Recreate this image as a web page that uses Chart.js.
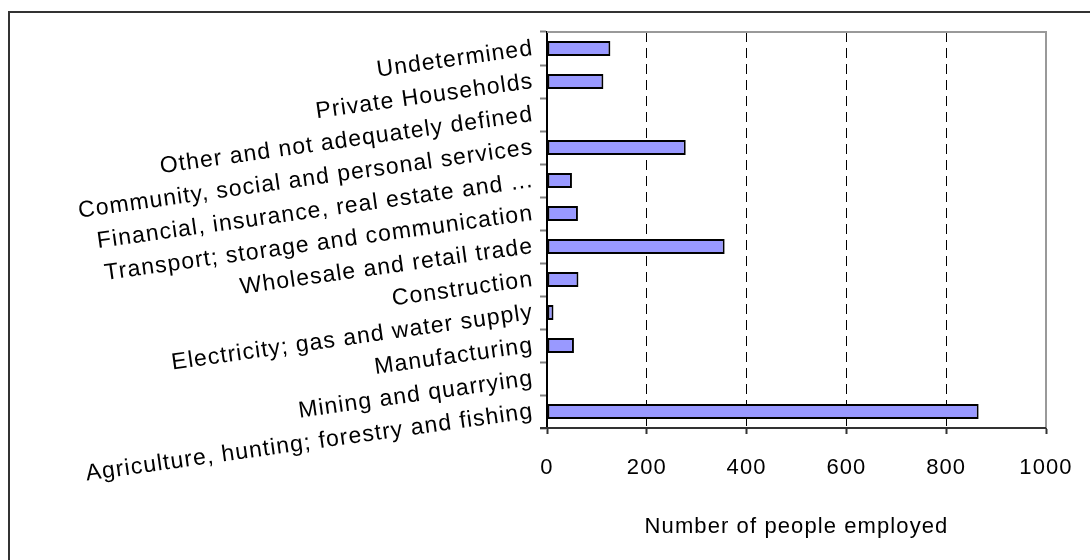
<!DOCTYPE html>
<html>
<head>
<meta charset="utf-8">
<script src="https://cdn.jsdelivr.net/npm/chart.js@4/dist/chart.umd.min.js"></script>
<style>
  html, body { margin: 0; padding: 0; background: #fff; }
  #wrap { position: relative; width: 1090px; height: 560px; }
</style>
</head>
<body>
<div id="wrap"><canvas id="employmentChart" width="1090" height="560"></canvas></div>
<script>
"use strict";

// Sectors, bottom to top as they appear on the chart
const sectors = [
  "Agriculture, hunting; forestry and fishing",
  "Mining and quarrying",
  "Manufacturing",
  "Electricity; gas and water supply",
  "Construction",
  "Wholesale and retail trade",
  "Transport; storage and communication",
  "Financial, insurance, real estate and ...",
  "Community, social and personal services",
  "Other and not adequately defined",
  "Private Households",
  "Undetermined"
];

// Number of people employed in each sector
const employed = [865, 0, 54, 13, 63, 356, 62, 50, 278, 0, 113, 127];

const xTickValues = [0, 200, 400, 600, 800, 1000];
const xAxisTitle = "Number of people employed";

const FONT = "'Liberation Sans', Arial, sans-serif";

// Frame round the picture, grey box round the plot, wider letter spacing
const framePlugin = {
  id: "frame",
  beforeLayout(chart) {
    chart.ctx.letterSpacing = "1.1px";
  },
  beforeDraw(chart) {
    const ctx = chart.ctx;
    ctx.letterSpacing = "1.1px";
    ctx.save();
    ctx.strokeStyle = "#333";
    ctx.lineWidth = 2;
    ctx.beginPath();
    ctx.moveTo(9, 560);
    ctx.lineTo(9, 12);
    ctx.lineTo(1090, 12);
    ctx.stroke();
    ctx.restore();
  },
  afterDraw(chart) {
    const { ctx, chartArea } = chart;
    ctx.save();
    ctx.setLineDash([]);
    ctx.strokeStyle = "#999";
    ctx.lineWidth = 2;
    ctx.beginPath();
    ctx.moveTo(chartArea.left, chartArea.top);
    ctx.lineTo(chartArea.right, chartArea.top);
    ctx.lineTo(chartArea.right, chartArea.bottom);
    ctx.stroke();
    // solid axis line along the bottom
    ctx.strokeStyle = "#333";
    ctx.beginPath();
    ctx.moveTo(chartArea.left - 7, chartArea.bottom);
    ctx.lineTo(chartArea.right, chartArea.bottom);
    ctx.stroke();
    ctx.restore();
  }
};

const canvas = document.getElementById("employmentChart");

new Chart(canvas, {
  type: "bar",
  data: {
    labels: sectors,
    datasets: [{
      data: employed,
      backgroundColor: "#9999ff",
      borderColor: "#000",
      borderWidth: 2,
      borderSkipped: false,
      categoryPercentage: 1,
      barPercentage: 0.45
    }]
  },
  plugins: [framePlugin],
  options: {
    indexAxis: "y",
    responsive: false,
    devicePixelRatio: 1,
    animation: false,
    layout: { padding: { top: 32, right: 44, bottom: 0, left: 0 } },
    plugins: {
      legend: { display: false },
      tooltip: { enabled: false }
    },
    scales: {
      x: {
        min: 0,
        max: 1000,
        afterBuildTicks: (scale) => {
          scale.ticks = xTickValues.map(v => ({ value: v }));
        },
        afterFit: (scale) => {
          scale.height = 132;
          scale.paddingLeft = 0;
          scale.paddingRight = 20;
        },
        border: { color: "#333", width: 2, dash: [10, 6] },
        grid: {
          color: (c) => (c.tick && (c.tick.value === 0 || c.tick.value === 1000)) ? "rgba(0,0,0,0)" : "#000",
          lineWidth: 1,
          tickLength: 6,
          tickColor: "#333",
          tickWidth: 2,
          tickBorderDash: []
        },
        ticks: {
          color: "#000",
          padding: 21,
          callback: (v) => String(v),
          font: { family: FONT, size: 22 }
        },
        title: {
          display: true,
          text: xAxisTitle,
          color: "#000",
          font: { family: FONT, size: 22 },
          padding: { top: 0, bottom: 20 }
        }
      },
      y: {
        reverse: true,
        afterFit: (scale) => { scale.width = 547; },
        border: { color: "#000", width: 2 },
        grid: {
          offset: true,
          drawOnChartArea: false,
          tickLength: 7,
          color: "#808080",
          tickColor: "#808080",
          tickWidth: 2
        },
        ticks: {
          color: "#000",
          padding: 7,
          minRotation: 8,
          maxRotation: 8,
          autoSkip: false,
          font: { family: FONT, size: 23 }
        }
      }
    }
  }
});
</script>
</body>
</html>
